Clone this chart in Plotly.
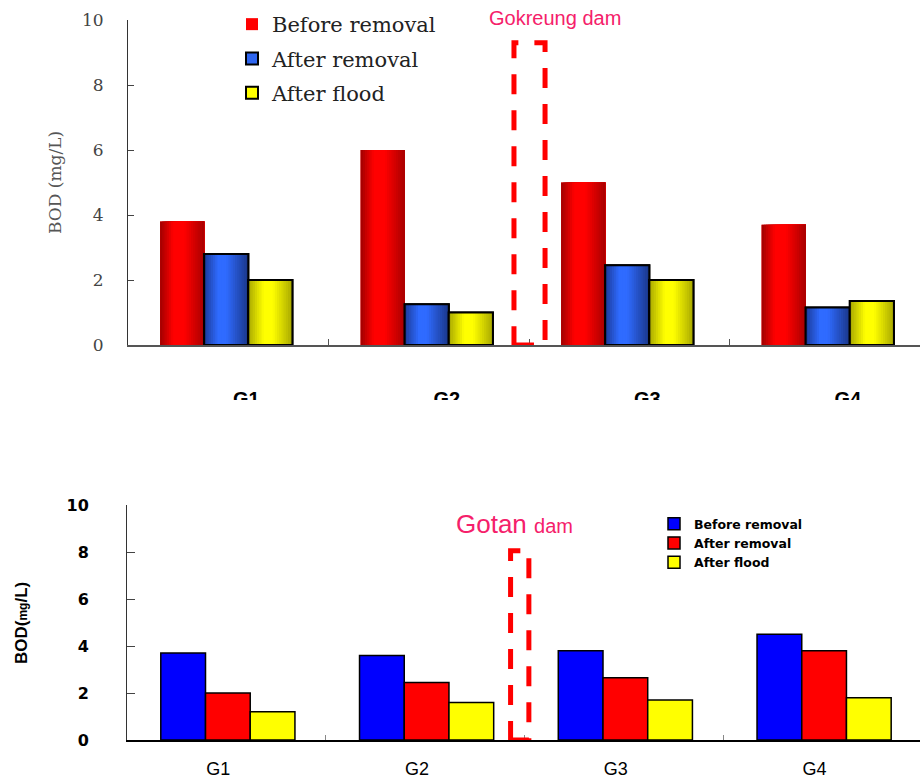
import plotly.graph_objects as go

# ---------------- data ----------------
categories = ["G1", "G2", "G3", "G4"]
series_names = ["Before removal", "After removal", "After flood"]

# Gokreung dam (top chart)
top_before = [3.8, 6.0, 5.0, 3.7]
top_after = [2.8, 1.25, 2.45, 1.15]
top_flood = [2.0, 1.0, 2.0, 1.35]

# Gotan dam (bottom chart)
bot_before = [3.7, 3.6, 3.8, 4.5]
bot_after = [2.0, 2.45, 2.65, 3.8]
bot_flood = [1.2, 1.6, 1.7, 1.8]

y_tick_vals = [0, 2, 4, 6, 8, 10]
dam_top_height = 9.3
dam_bot_height = 8.05

# ---------------- helpers ----------------
W, H = 920, 781


def px_x(p):
    return p / W


def px_y(p):
    return 1 - p / H


def hex2rgb(h):
    h = h.lstrip("#")
    return tuple(int(h[i:i + 2], 16) for i in (0, 2, 4))


def interp(stops, t):
    for (p0, c0), (p1, c1) in zip(stops[:-1], stops[1:]):
        if p0 <= t <= p1:
            f = 0 if p1 == p0 else (t - p0) / (p1 - p0)
            a, b = hex2rgb(c0), hex2rgb(c1)
            r = [round(a[i] + (b[i] - a[i]) * f) for i in range(3)]
            return "rgb(%d,%d,%d)" % tuple(r)
    return stops[-1][1]


red_stops = [(0, "#a00000"), (0.3, "#ff0000"), (0.55, "#ff0000"), (1, "#a80000")]
blue_stops = [(0, "#1c3a98"), (0.32, "#2f6bff"), (0.5, "#2f6bff"), (1, "#1a3688")]
yellow_stops = [(0, "#a8a800"), (0.35, "#ffff00"), (0.55, "#ffff00"), (1, "#a8a800")]

fig = go.Figure()

# ---------------- top chart (gradient bars) ----------------
N = 20
BW = 0.22
top_offsets = [-0.34, -0.12, 0.10]
top_specs = [
    (series_names[0], top_before, red_stops, "#ff0000", False),
    (series_names[1], top_after, blue_stops, "#2f66f0", True),
    (series_names[2], top_flood, yellow_stops, "#ffff00", True),
]
for i, (name, vals, stops, mid, outline) in enumerate(top_specs):
    off = top_offsets[i]
    fig.add_trace(go.Bar(
        x=categories, y=vals, name=name, offset=off, width=BW,
        marker=dict(color=mid, line=dict(color="black" if outline else mid,
                                         width=2 if outline else 0)),
        legend="legend", legendgroup="t" + name, xaxis="x", yaxis="y",
        hoverinfo="skip"))
    for k in range(N):
        t = (k + 0.5) / N
        fig.add_trace(go.Bar(
            x=categories, y=vals, offset=off + k * BW / N, width=BW * (1 - k / N),
            marker=dict(color=interp(stops, t), line=dict(width=0)),
            showlegend=False, xaxis="x", yaxis="y", hoverinfo="skip"))
    if outline:
        fig.add_trace(go.Bar(
            x=categories, y=vals, offset=off, width=BW,
            marker=dict(color="rgba(0,0,0,0)", line=dict(color="black", width=2)),
            showlegend=False, xaxis="x", yaxis="y", hoverinfo="skip"))

# ---------------- bottom chart (solid bars) ----------------
bot_offsets = [-0.33, -0.105, 0.12]
BW2 = 0.225
bot_specs = [
    (series_names[0], bot_before, "#0000ff"),
    (series_names[1], bot_after, "#ff0000"),
    (series_names[2], bot_flood, "#ffff00"),
]
for i, (name, vals, col) in enumerate(bot_specs):
    fig.add_trace(go.Bar(
        x=categories, y=vals, name=name, offset=bot_offsets[i], width=BW2,
        marker=dict(color=col, line=dict(color="black", width=1.5)),
        legend="legend2", legendgroup="b" + name,
        xaxis="x2", yaxis="y2", hoverinfo="skip"))

# ---------------- layout ----------------
serif = "DejaVu Serif"
sans = "Liberation Sans"

fig.update_layout(
    width=W, height=H,
    margin=dict(l=0, r=0, t=0, b=0, autoexpand=False),
    paper_bgcolor="white", plot_bgcolor="white",
    barmode="overlay",
    showlegend=True,
    xaxis=dict(
        domain=[px_x(128), 1], anchor="y", type="category", automargin=False,
        range=[-0.5, 3.45], showline=True, linecolor="#555", linewidth=1.5,
        ticks="inside", tickson="boundaries", ticklen=6, tickcolor="#555",
        showgrid=False, zeroline=False,
        tickfont=dict(family=sans, size=20, color="black", weight="bold"),
        ticklabelstandoff=35, ticklabelshift=18,
    ),
    yaxis=dict(
        domain=[px_y(345), px_y(20)], anchor="x", range=[0, 10], automargin=False,
        tickvals=y_tick_vals, showline=True, linecolor="#333", linewidth=1,
        ticks="inside", ticklen=6, tickcolor="#444", showgrid=False,
        zeroline=False, ticklabelstandoff=20,
        tickfont=dict(family=serif, size=17, color="#444"),
    ),
    xaxis2=dict(
        domain=[px_x(127), 1], anchor="y2", type="category", automargin=False,
        range=[-0.5, 3.49], showline=True, linecolor="black", linewidth=1.5,
        ticks="inside", tickson="boundaries", ticklen=5, tickcolor="#888",
        showgrid=False, zeroline=False,
        tickfont=dict(family=sans, size=18, color="black"),
        ticklabelstandoff=12, ticklabelshift=-8,
    ),
    yaxis2=dict(
        domain=[px_y(740), px_y(505)], anchor="x2", range=[0, 10], automargin=False,
        tickvals=y_tick_vals, showline=True, linecolor="#333", linewidth=1,
        ticks="inside", ticklen=8, tickcolor="#444", showgrid=False,
        zeroline=False, ticklabelstandoff=34,
        tickfont=dict(family="DejaVu Sans", size=16, color="black", weight="bold"),
    ),
    legend=dict(
        x=px_x(232), y=px_y(4), xanchor="left", yanchor="top",
        bgcolor="rgba(0,0,0,0)", traceorder="grouped", tracegroupgap=4,
        font=dict(family=serif, size=21, color="#222"),
    ),
    legend2=dict(
        x=px_x(654), y=px_y(509), xanchor="left", yanchor="top",
        bgcolor="rgba(0,0,0,0)", traceorder="grouped", tracegroupgap=0,
        font=dict(family="DejaVu Sans", size=12.5, color="black", weight="bold"),
    ),
)

# dam markers (dashed rectangles)
fig.add_shape(type="rect", xref="x", yref="y", x0=1.425, x1=1.58, y0=0,
              y1=dam_top_height, line=dict(color="#ff0000", width=5, dash="20px,16px"),
              layer="above")
fig.add_shape(type="rect", xref="x2", yref="y2", x0=1.43, x1=1.522, y0=0,
              y1=dam_bot_height, line=dict(color="#ff0000", width=5, dash="20px,16px"),
              layer="above")

# white band that clips the top chart's category labels
fig.add_shape(type="rect", xref="paper", yref="paper", x0=0, x1=1,
              y0=px_y(480), y1=px_y(400), fillcolor="white", line=dict(width=0),
              layer="above")

# annotations
fig.add_annotation(text="Gokreung dam", xref="paper", yref="paper",
                   x=px_x(555), y=px_y(18), showarrow=False,
                   xanchor="center", yanchor="middle",
                   font=dict(family=sans, size=20, color="#f5206a"))
fig.add_annotation(text="Gotan <span style='font-size:20px'>dam</span>",
                   xref="paper", yref="paper", x=px_x(514), y=px_y(524),
                   xanchor="center", yanchor="middle",
                   showarrow=False, font=dict(family=sans, size=26, color="#f5206a"))
fig.add_annotation(text="BOD (mg/L)", xref="paper", yref="paper",
                   x=px_x(55), y=px_y(183), textangle=-90, showarrow=False,
                   xanchor="center", yanchor="middle",
                   font=dict(family=serif, size=17, color="#555"))
fig.add_annotation(text="BOD(<span style='font-size:12px'>mg</span>/L)",
                   xref="paper", yref="paper", x=px_x(21), y=px_y(623),
                   textangle=-90, showarrow=False, xanchor="center", yanchor="middle",
                   font=dict(family=sans, size=17, color="black", weight="bold"))

fig.write_html(
    "out.html",
    config={"displayModeBar": False},
    post_script="document.body.style.margin='0';document.body.style.padding='0';"
                "document.body.style.overflow='hidden';",
)
